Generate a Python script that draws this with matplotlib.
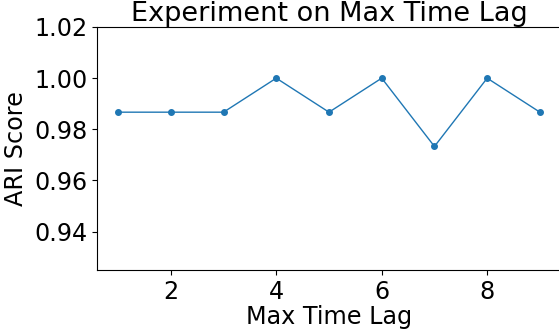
import matplotlib
matplotlib.use('Agg')
import matplotlib.pyplot as plt

# max time lag vs ARI score
lags = [1, 2, 3, 4, 5, 6, 7, 8, 9]
ari = [0.9867, 0.9867, 0.9867, 1.0, 0.9867, 1.0, 0.9733, 1.0, 0.9867]

plt.rcParams['font.size'] = 17.2

fig = plt.figure(figsize=(5.59, 3.3), dpi=100)
ax = fig.add_axes([97 / 559, 60 / 330, 464 / 559, 243 / 330])
ax.plot(lags, ari, marker='o', markersize=4, linestyle='-', linewidth=1, color='tab:blue')
ax.set_ylim(0.925, 1.02)
ax.set_xlim(0.6, 9.4)
ax.set_yticks([0.94, 0.96, 0.98, 1.00, 1.02])
ax.set_xticks([2, 4, 6, 8])
ax.set_xlabel('Max Time Lag', labelpad=1)
ax.set_ylabel('ARI Score')
ax.set_title('Experiment on Max Time Lag', fontsize=19.5, pad=2)

fig.savefig('out.png', dpi=100)
